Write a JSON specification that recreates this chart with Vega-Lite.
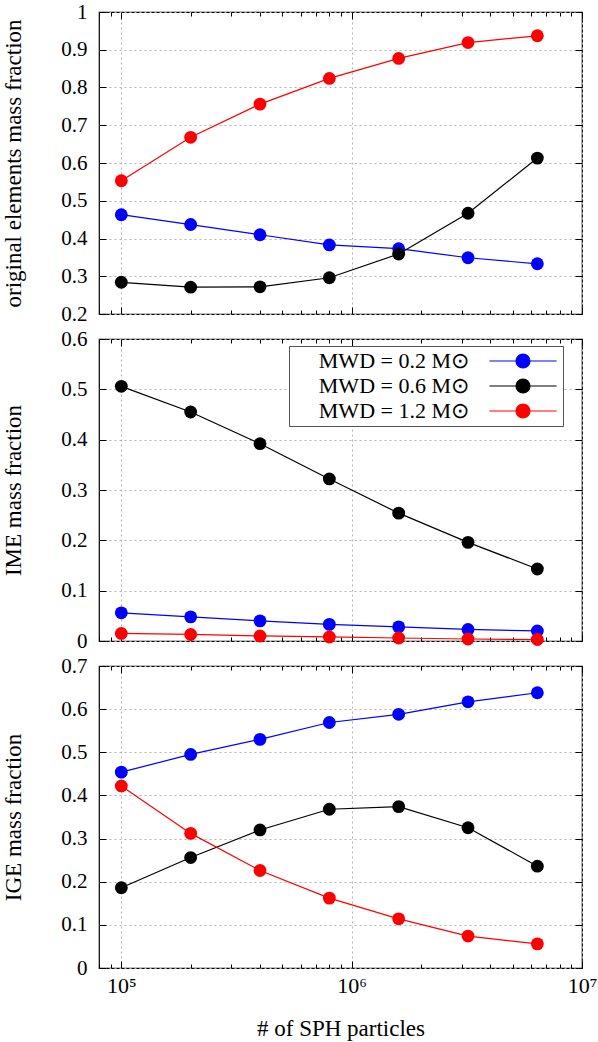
{
  "$schema": "https://vega.github.io/schema/vega-lite/v6.json",
  "background": "white",
  "padding": {"left": 2, "top": 0, "right": 0, "bottom": 0},
  "spacing": 25,
  "bounds": "flush",
  "config": {
    "font": "Liberation Serif",
    "view": {"stroke": "#000000", "strokeWidth": 1.2},
    "axis": {
      "labelFont": "Liberation Serif",
      "titleFont": "Liberation Serif",
      "labelFontSize": 21,
      "titleFontSize": 23,
      "titleFontWeight": "normal",
      "labelColor": "#000000",
      "titleColor": "#000000",
      "domain": false,
      "tickColor": "#000000",
      "tickWidth": 1,
      "gridColor": "#b4b4b4",
      "gridDash": [2, 3],
      "gridWidth": 1,
      "labelFlush": false,
      "labelOverlap": false
    },
    "legend": {
      "orient": "none",
      "legendX": 190,
      "legendY": 7,
      "title": null,
      "symbolType": "M-4.8,0L4.8,0M1,0A1,1 0 1,1 -1,0A1,1 0 1,1 1,0Z",
      "symbolSize": 196,
      "symbolStrokeWidth": 1.2,
      "symbolOffset": 219,
      "labelAlign": "right",
      "labelOffset": -65,
      "labelFont": "Liberation Serif",
      "labelFontSize": 22,
      "labelColor": "#000000",
      "labelLimit": 300,
      "rowPadding": 3,
      "padding": 4,
      "strokeColor": "#555555",
      "fillColor": "#ffffff",
      "cornerRadius": 0
    }
  },
  "datasets": {
    "runs": [
      {"n": 100000, "mwd": "0.2", "orig": 0.463, "ime": 0.056, "ige": 0.454},
      {"n": 200000, "mwd": "0.2", "orig": 0.437, "ime": 0.048, "ige": 0.495},
      {"n": 400000, "mwd": "0.2", "orig": 0.410, "ime": 0.040, "ige": 0.530},
      {"n": 800000, "mwd": "0.2", "orig": 0.383, "ime": 0.033, "ige": 0.569},
      {"n": 1600000, "mwd": "0.2", "orig": 0.373, "ime": 0.028, "ige": 0.588},
      {"n": 3200000, "mwd": "0.2", "orig": 0.349, "ime": 0.023, "ige": 0.617},
      {"n": 6400000, "mwd": "0.2", "orig": 0.333, "ime": 0.020, "ige": 0.638},
      {"n": 100000, "mwd": "0.6", "orig": 0.284, "ime": 0.506, "ige": 0.186},
      {"n": 200000, "mwd": "0.6", "orig": 0.271, "ime": 0.455, "ige": 0.256},
      {"n": 400000, "mwd": "0.6", "orig": 0.272, "ime": 0.392, "ige": 0.320},
      {"n": 800000, "mwd": "0.6", "orig": 0.296, "ime": 0.322, "ige": 0.368},
      {"n": 1600000, "mwd": "0.6", "orig": 0.359, "ime": 0.254, "ige": 0.374},
      {"n": 3200000, "mwd": "0.6", "orig": 0.467, "ime": 0.196, "ige": 0.325},
      {"n": 6400000, "mwd": "0.6", "orig": 0.613, "ime": 0.143, "ige": 0.236},
      {"n": 100000, "mwd": "1.2", "orig": 0.553, "ime": 0.015, "ige": 0.422},
      {"n": 200000, "mwd": "1.2", "orig": 0.668, "ime": 0.013, "ige": 0.312},
      {"n": 400000, "mwd": "1.2", "orig": 0.756, "ime": 0.010, "ige": 0.226},
      {"n": 800000, "mwd": "1.2", "orig": 0.824, "ime": 0.008, "ige": 0.162},
      {"n": 1600000, "mwd": "1.2", "orig": 0.877, "ime": 0.006, "ige": 0.114},
      {"n": 3200000, "mwd": "1.2", "orig": 0.919, "ime": 0.004, "ige": 0.074},
      {"n": 6400000, "mwd": "1.2", "orig": 0.937, "ime": 0.003, "ige": 0.056}
    ]
  },
  "resolve": {"scale": {"color": "independent"}, "legend": {"color": "independent"}},
  "vconcat": [
    {
      "width": 483,
      "height": 302,
      "data": {"name": "runs"},
      "resolve": {"axis": {"x": "independent", "y": "independent"}},
      "layer": [
        {
          "mark": {"type": "line", "strokeWidth": 1.2},
          "encoding": {
            "x": {
              "field": "n", "type": "quantitative",
              "scale": {"type": "log", "domain": [80000, 10000000], "nice": false},
              "axis": {
                "orient": "bottom", "title": null, "labels": false, "grid": true,
                "values": [80000, 90000, 100000, 200000, 300000, 400000, 500000, 600000, 700000, 800000, 900000, 1000000, 2000000, 3000000, 4000000, 5000000, 6000000, 7000000, 8000000, 9000000, 10000000],
                "gridOpacity": {"condition": {"test": "datum.value === 100000 || datum.value === 1000000 || datum.value === 10000000", "value": 1}, "value": 0},
                "tickSize": {"condition": {"test": "datum.value === 100000 || datum.value === 1000000 || datum.value === 10000000", "value": -7}, "value": -4}
              }
            },
            "y": {
              "field": "orig", "type": "quantitative",
              "scale": {"domain": [0.2, 1], "nice": false, "zero": false},
              "axis": {
                "orient": "left", "title": "original elements mass fraction", "grid": true,
                "values": [0.2, 0.3, 0.4, 0.5, 0.6, 0.7, 0.8, 0.9, 1],
                "format": ".1~f", "tickSize": -7, "labelPadding": 19, "titlePadding": 35
              }
            },
            "color": {
              "field": "mwd", "type": "nominal",
              "scale": {"domain": ["0.2", "0.6", "1.2"], "range": ["#0000ff", "#000000", "#ff0000"]},
              "legend": null
            }
          }
        },
        {
          "mark": {"type": "point", "filled": true, "size": 165, "opacity": 1},
          "encoding": {
            "x": {
              "field": "n", "type": "quantitative",
              "scale": {"type": "log", "domain": [80000, 10000000], "nice": false},
              "axis": {
                "orient": "top", "title": null, "labels": false, "grid": false,
                "values": [80000, 90000, 100000, 200000, 300000, 400000, 500000, 600000, 700000, 800000, 900000, 1000000, 2000000, 3000000, 4000000, 5000000, 6000000, 7000000, 8000000, 9000000, 10000000],
                "tickSize": {"condition": {"test": "datum.value === 100000 || datum.value === 1000000 || datum.value === 10000000", "value": -7}, "value": -4}
              }
            },
            "y": {
              "field": "orig", "type": "quantitative",
              "scale": {"domain": [0.2, 1], "nice": false, "zero": false},
              "axis": {
                "orient": "right", "title": null, "labels": false, "grid": false,
                "values": [0.2, 0.3, 0.4, 0.5, 0.6, 0.7, 0.8, 0.9, 1],
                "tickSize": -7
              }
            },
            "color": {
              "field": "mwd", "type": "nominal",
              "scale": {"domain": ["0.2", "0.6", "1.2"], "range": ["#0000ff", "#000000", "#ff0000"]},
              "legend": null
            }
          }
        }
      ]
    },
    {
      "width": 483,
      "height": 302,
      "data": {"name": "runs"},
      "resolve": {"axis": {"x": "independent", "y": "independent"}},
      "layer": [
        {
          "mark": {"type": "line", "strokeWidth": 1.2},
          "encoding": {
            "x": {
              "field": "n", "type": "quantitative",
              "scale": {"type": "log", "domain": [80000, 10000000], "nice": false},
              "axis": {
                "orient": "bottom", "title": null, "labels": false, "grid": true,
                "values": [80000, 90000, 100000, 200000, 300000, 400000, 500000, 600000, 700000, 800000, 900000, 1000000, 2000000, 3000000, 4000000, 5000000, 6000000, 7000000, 8000000, 9000000, 10000000],
                "gridOpacity": {"condition": {"test": "datum.value === 100000 || datum.value === 1000000 || datum.value === 10000000", "value": 1}, "value": 0},
                "tickSize": {"condition": {"test": "datum.value === 100000 || datum.value === 1000000 || datum.value === 10000000", "value": -7}, "value": -4}
              }
            },
            "y": {
              "field": "ime", "type": "quantitative",
              "scale": {"domain": [0, 0.6], "nice": false},
              "axis": {
                "orient": "left", "title": "IME mass fraction", "grid": true,
                "values": [0, 0.1, 0.2, 0.3, 0.4, 0.5, 0.6],
                "format": ".1~f", "tickSize": -7, "labelPadding": 19, "titlePadding": 35
              }
            },
            "color": {
              "field": "mwd", "type": "nominal",
              "scale": {"domain": ["0.2", "0.6", "1.2"], "range": ["#0000ff", "#000000", "#ff0000"]},
              "legend": {
                "labelExpr": "'MWD = ' + datum.label + ' M⊙'",
                "encode": {
                  "symbols": {
                    "update": {
                      "stroke": {"signal": "datum.value === '0.2' ? '#0000ff' : datum.value === '0.6' ? '#000000' : '#ff0000'"},
                      "fill": {"signal": "datum.value === '0.2' ? '#0000ff' : datum.value === '0.6' ? '#000000' : '#ff0000'"},
                      "opacity": {"value": 1}
                    }
                  }
                }
              }
            }
          }
        },
        {
          "mark": {"type": "point", "filled": true, "size": 165, "opacity": 1},
          "encoding": {
            "x": {
              "field": "n", "type": "quantitative",
              "scale": {"type": "log", "domain": [80000, 10000000], "nice": false},
              "axis": {
                "orient": "top", "title": null, "labels": false, "grid": false,
                "values": [80000, 90000, 100000, 200000, 300000, 400000, 500000, 600000, 700000, 800000, 900000, 1000000, 2000000, 3000000, 4000000, 5000000, 6000000, 7000000, 8000000, 9000000, 10000000],
                "tickSize": {"condition": {"test": "datum.value === 100000 || datum.value === 1000000 || datum.value === 10000000", "value": -7}, "value": -4}
              }
            },
            "y": {
              "field": "ime", "type": "quantitative",
              "scale": {"domain": [0, 0.6], "nice": false},
              "axis": {
                "orient": "right", "title": null, "labels": false, "grid": false,
                "values": [0, 0.1, 0.2, 0.3, 0.4, 0.5, 0.6],
                "tickSize": -7
              }
            },
            "color": {
              "field": "mwd", "type": "nominal",
              "scale": {"domain": ["0.2", "0.6", "1.2"], "range": ["#0000ff", "#000000", "#ff0000"]},
              "legend": {
                "labelExpr": "'MWD = ' + datum.label + ' M⊙'",
                "encode": {
                  "symbols": {
                    "update": {
                      "stroke": {"signal": "datum.value === '0.2' ? '#0000ff' : datum.value === '0.6' ? '#000000' : '#ff0000'"},
                      "fill": {"signal": "datum.value === '0.2' ? '#0000ff' : datum.value === '0.6' ? '#000000' : '#ff0000'"},
                      "opacity": {"value": 1}
                    }
                  }
                }
              }
            }
          }
        }
      ]
    },
    {
      "width": 483,
      "height": 302,
      "data": {"name": "runs"},
      "resolve": {"axis": {"x": "independent", "y": "independent"}},
      "layer": [
        {
          "mark": {"type": "line", "strokeWidth": 1.2},
          "encoding": {
            "x": {
              "field": "n", "type": "quantitative",
              "scale": {"type": "log", "domain": [80000, 10000000], "nice": false},
              "axis": {
                "orient": "bottom", "title": "# of SPH particles", "labels": true, "grid": true,
                "values": [80000, 90000, 100000, 200000, 300000, 400000, 500000, 600000, 700000, 800000, 900000, 1000000, 2000000, 3000000, 4000000, 5000000, 6000000, 7000000, 8000000, 9000000, 10000000],
                "labelExpr": "datum.value === 100000 ? '10⁵' : datum.value === 1000000 ? '10⁶' : datum.value === 10000000 ? '10⁷' : ''",
                "labelFontSize": 22,
                "gridOpacity": {"condition": {"test": "datum.value === 100000 || datum.value === 1000000 || datum.value === 10000000", "value": 1}, "value": 0},
                "tickSize": {"condition": {"test": "datum.value === 100000 || datum.value === 1000000 || datum.value === 10000000", "value": -7}, "value": -4},
                "labelPadding": 14,
                "titlePadding": 18
              }
            },
            "y": {
              "field": "ige", "type": "quantitative",
              "scale": {"domain": [0, 0.7], "nice": false},
              "axis": {
                "orient": "left", "title": "IGE mass fraction", "grid": true,
                "values": [0, 0.1, 0.2, 0.3, 0.4, 0.5, 0.6, 0.7],
                "format": ".1~f", "tickSize": -7, "labelPadding": 19, "titlePadding": 35
              }
            },
            "color": {
              "field": "mwd", "type": "nominal",
              "scale": {"domain": ["0.2", "0.6", "1.2"], "range": ["#0000ff", "#000000", "#ff0000"]},
              "legend": null
            }
          }
        },
        {
          "mark": {"type": "point", "filled": true, "size": 165, "opacity": 1},
          "encoding": {
            "x": {
              "field": "n", "type": "quantitative",
              "scale": {"type": "log", "domain": [80000, 10000000], "nice": false},
              "axis": {
                "orient": "top", "title": null, "labels": false, "grid": false,
                "values": [80000, 90000, 100000, 200000, 300000, 400000, 500000, 600000, 700000, 800000, 900000, 1000000, 2000000, 3000000, 4000000, 5000000, 6000000, 7000000, 8000000, 9000000, 10000000],
                "tickSize": {"condition": {"test": "datum.value === 100000 || datum.value === 1000000 || datum.value === 10000000", "value": -7}, "value": -4}
              }
            },
            "y": {
              "field": "ige", "type": "quantitative",
              "scale": {"domain": [0, 0.7], "nice": false},
              "axis": {
                "orient": "right", "title": null, "labels": false, "grid": false,
                "values": [0, 0.1, 0.2, 0.3, 0.4, 0.5, 0.6, 0.7],
                "tickSize": -7
              }
            },
            "color": {
              "field": "mwd", "type": "nominal",
              "scale": {"domain": ["0.2", "0.6", "1.2"], "range": ["#0000ff", "#000000", "#ff0000"]},
              "legend": null
            }
          }
        }
      ]
    }
  ]
}
